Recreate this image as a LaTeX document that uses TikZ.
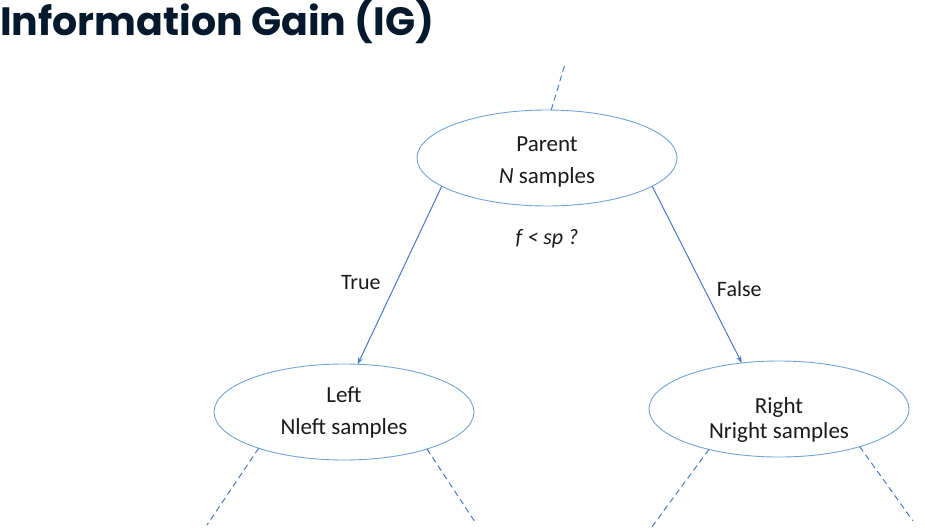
\documentclass[tikz,border=0pt]{standalone}
\usepackage{fontspec}
\setmainfont{Carlito}
\newfontfamily\titlefont{Poppins}
\usepackage{xcolor}
\usepackage{tikz}
\usetikzlibrary{arrows.meta, positioning, shapes.geometric}
\definecolor{cTitle}{HTML}{05192D}
\definecolor{cEllipse}{HTML}{6FA3DC}
\definecolor{cArrow}{HTML}{4A78CF}
\definecolor{cText}{HTML}{1A1A1A}
% pushes the text of a node down
\newcommand{\lowerby}[1]{\rule{0pt}{#1}}

\begin{document}
\begin{tikzpicture}[
    x=1pt, y=-1pt,
    split/.style={ellipse, draw=cEllipse, line width=0.9pt,
                  minimum width=260pt, minimum height=96pt,
                  inner sep=0pt, outer sep=0pt, align=center,
                  font=\fontsize{23}{32}\selectfont, text=cText},
    arr/.style={-{Stealth[length=7pt, width=5pt]}, line width=1pt, draw=cArrow},
    more/.style={dashed, dash pattern=on 6pt off 4pt, line width=1pt, draw=cArrow},
    every node/.style={font=\fontsize{22}{26}\selectfont, text=cText},
  ]
  \useasboundingbox (0,0) rectangle (925,530);

  % Title
  \node[anchor=west, inner sep=0pt, text=cTitle,
        font=\titlefont\bfseries\fontsize{39.5}{44}\selectfont]
    (title) at (0,22) {Information Gain (IG)};

  % Tree
  \node[split] (parent) at (547,158) {\lowerby{22pt}Parent\\\textit{N} samples};
  \node[split] (left)   at (344,412) {Left\\Nleft samples};
  \node[split, font=\fontsize{23}{25}\selectfont]
               (right)  at (779,409) {\lowerby{37pt}Right\\Nright samples};

  \node[below=33pt of parent.south, anchor=center] (cond) {\textit{f < sp ?}};

  \draw[arr] (parent.195) -- (left.74)
    node[pos=0.54, left=12pt] (true) {True};
  \draw[arr] (parent.345) -- (right.129)
    node[pos=0.58, right=9pt] (false) {False};

  % Continuation of the tree
  \coordinate (up) at (565,64);
  \coordinate (ll) at (207,525);
  \coordinate (lr) at (475,522);
  \coordinate (rl) at (651,528);
  \coordinate (rr) at (913,521);
  \draw[more] (parent.85)  -- (up);
  \draw[more] (left.203)   -- (ll);
  \draw[more] (left.336)   -- (lr);
  \draw[more] (right.210)  -- (rl);
  \draw[more] (right.335)  -- (rr);
\end{tikzpicture}
\end{document}
